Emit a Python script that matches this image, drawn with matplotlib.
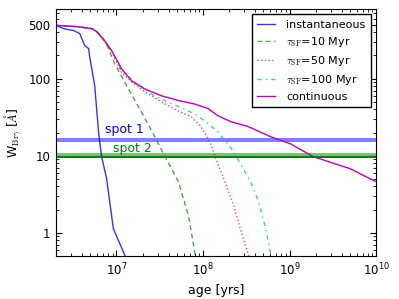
import matplotlib
matplotlib.use("Agg")
import matplotlib.pyplot as plt
from matplotlib.ticker import ScalarFormatter, NullFormatter

# W(Br gamma) vs age
age_inst = [2.0e6, 2.45e6, 3.2e6, 3.76e6, 4.3e6, 4.77e6, 4.9e6, 5.3e6, 5.6e6, 6.2e6, 6.7e6, 7.7e6, 9.2e6, 1.24e7, 1.3e7]
W_inst = [490, 445, 420, 384, 268, 245, 193, 116, 81, 20.5, 10, 5.0, 1.13, 0.52, 0.45]

age_10 = [2.0e6, 3.5e6, 5.2e6, 5.9e6, 6.7e6, 7.9e6, 9.5e6, 1.37e7, 1.94e7, 2.73e7, 3.6e7, 5.2e7, 6.8e7, 7.9e7, 8.3e7]
W_10 = [490, 473, 445, 405, 361, 261, 157, 74, 37, 18.2, 10, 4.6, 1.66, 0.62, 0.45]

age_50 = [2.0e6, 3.5e6, 5.2e6, 5.9e6, 7.3e6, 8.8e6, 1.14e7, 1.49e7, 2.1e7, 3.3e7, 5.2e7, 7.3e7, 9.3e7, 1.1e8, 1.25e8, 1.41e8, 1.74e8, 2.27e8, 2.7e8, 3.3e8, 3.5e8]
W_50 = [490, 473, 445, 408, 305, 225, 120, 91, 68, 50, 38, 32, 24.5, 18.2, 13.5, 9.1, 5.0, 2.24, 1.13, 0.54, 0.45]

age_100 = [2.0e6, 3.5e6, 5.2e6, 5.9e6, 7.3e6, 8.8e6, 1.14e7, 1.61e7, 2.73e7, 4.3e7, 6.0e7, 8.7e7, 1.14e8, 1.49e8, 1.9e8, 2.27e8, 2.7e8, 3.56e8, 4.4e8, 5.3e8, 6.0e8, 6.2e8]
W_100 = [490, 473, 445, 408, 308, 228, 127, 91, 60, 47, 41, 33, 26, 20.5, 14.5, 11.3, 7.9, 4.6, 2.53, 1.13, 0.57, 0.45]

age_cont = [2.0e6, 3.5e6, 5.2e6, 5.9e6, 7.3e6, 8.8e6, 1.14e7, 1.49e7, 2.1e7, 3.3e7, 5.2e7, 7.9e7, 1.14e8, 1.49e8, 2.1e8, 3.3e8, 6.0e8, 1.02e9, 1.89e9, 5.0e9, 1.0e10]
W_cont = [490, 473, 445, 408, 310, 231, 135, 94, 74, 60, 52, 47, 41, 33, 27.6, 24, 17.7, 14.3, 9.7, 6.8, 4.6]

spot1 = (15.2, 17.1)
spot2 = (10.05, 10.8)
spot2_line = 9.75

plt.rcParams['mathtext.fontset'] = 'cm'
plt.rcParams['xtick.direction'] = 'in'
plt.rcParams['ytick.direction'] = 'in'
plt.rcParams['xtick.top'] = True
plt.rcParams['ytick.right'] = True

fig = plt.figure(figsize=(3.99, 2.99), dpi=100)
ax = fig.add_axes([0.1404, 0.1438, 0.802, 0.826])

ax.plot(age_inst, W_inst, color='b', lw=1, alpha=0.8, label='instantaneous')
ax.plot(age_10, W_10, color='g', lw=1, alpha=0.7, dashes=(3.5, 2.5), label=r'$\tau_{\rm SF}$=10 Myr')
ax.plot(age_50, W_50, color='r', lw=1, alpha=0.7, ls=':', label=r'$\tau_{\rm SF}$=50 Myr')
ax.plot(age_100, W_100, color='c', lw=1, alpha=0.8, dashes=(3, 3, 1, 3), label=r'$\tau_{\rm SF}$=100 Myr')
ax.plot(age_cont, W_cont, color='m', lw=1, label='continuous')

ax.axhspan(spot1[0], spot1[1], color='b', alpha=0.5, lw=0)
ax.axhspan(spot2[0], spot2[1], color='g', alpha=0.5, lw=0)
ax.axhline(spot2_line, color='g', lw=1.5)
ax.text(7.35e6, 20, 'spot 1', color='b', fontsize=9, va='baseline')
ax.text(9.2e6, 11.2, 'spot 2', color='g', fontsize=9, va='baseline')

ax.set_xscale('log')
ax.set_yscale('log')
ax.set_xlim(2e6, 1e10)
ax.set_ylim(0.5, 800)
ax.set_yticks([1, 10, 100, 500])
ax.yaxis.set_major_formatter(ScalarFormatter())
ax.yaxis.set_minor_formatter(NullFormatter())
ax.tick_params(which='major', length=4, labelsize=8.5, pad=4)
ax.tick_params(which='minor', length=2)

ax.set_xlabel('age [yrs]', fontsize=9)
ax.set_ylabel(r'W$_{\rm Br\gamma}$ [$\AA$]', fontsize=9)

leg = ax.legend(loc='upper right', fontsize=8, fancybox=False, framealpha=1,
                edgecolor='k', borderaxespad=0.45, handlelength=1.6,
                handletextpad=1.0, labelspacing=0.45, borderpad=0.5)
leg.get_frame().set_linewidth(1)

fig.savefig('out.png', dpi=100)
